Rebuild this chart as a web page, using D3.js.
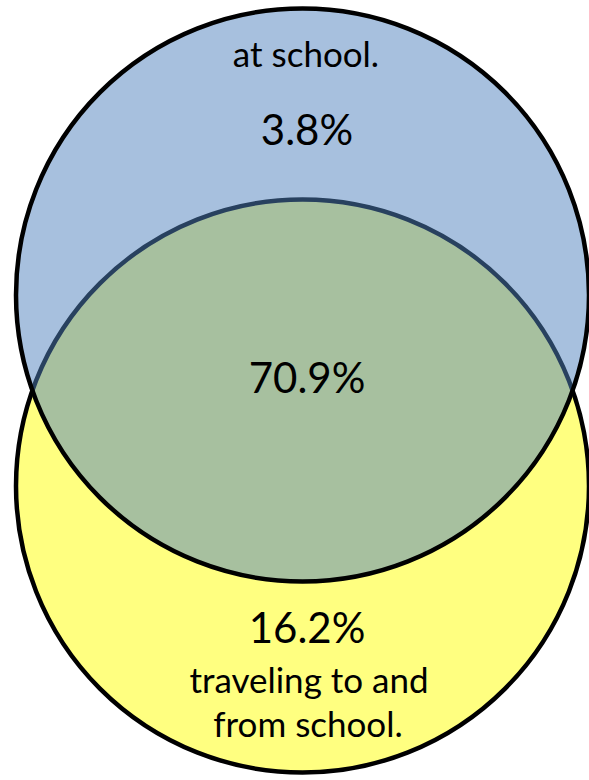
<!DOCTYPE html>
<html>
<head>
<meta charset="utf-8">
<script src="https://cdn.jsdelivr.net/npm/d3@7"></script>
<style>
  html, body { margin: 0; padding: 0; background: #ffffff; }
  svg { display: block; }
</style>
</head>
<body>
<div id="chart"></div>
<script>
// ---- data ----
const setNames = ["at school.", "traveling to and from school."];
const regionLabels = ["at school only", "both", "traveling only"];
const regionValues = [3.8, 70.9, 16.2];
const setColors = ["#4F81BD", "#FFFF80"];

const W = 589, H = 780;
const svg = d3.select("#chart").append("svg").attr("width", W).attr("height", H);

// layout in abstract units: circle radius 1, centers separated vertically
const x = d3.scaleLinear().domain([-1, 1]).range([16, 589]);
const y = d3.scaleLinear().domain([0, 1]).range([295, 486]);
const rPx = x(1) - x(0);

const circles = [
  { name: setNames[1], cx: 0, cy: 1, fill: setColors[1], opacity: 1 },
  { name: setNames[0], cx: 0, cy: 0, fill: setColors[0], opacity: 0.5 }
];

// yellow fill + stroke, then translucent blue fill (tints the yellow stroke navy), then blue stroke
svg.append("circle")
  .attr("cx", x(circles[0].cx)).attr("cy", y(circles[0].cy)).attr("r", rPx)
  .attr("fill", circles[0].fill).attr("stroke", "#000").attr("stroke-width", 4.5);
svg.append("circle")
  .attr("cx", x(circles[1].cx)).attr("cy", y(circles[1].cy)).attr("r", rPx)
  .attr("fill", circles[1].fill).attr("fill-opacity", circles[1].opacity).attr("stroke", "none");
svg.append("circle")
  .attr("cx", x(circles[1].cx)).attr("cy", y(circles[1].cy)).attr("r", rPx)
  .attr("fill", "none").attr("stroke", "#000").attr("stroke-width", 4.5);

const font = "Lato, 'Open Sans', sans-serif";
const fmt = v => v.toFixed(1) + "%";

const texts = [
  { t: setNames[0], x: 306, y: 67, size: 35 },
  { t: fmt(regionValues[0]), x: 307, y: 145, size: 42 },
  { t: fmt(regionValues[1]), x: 307, y: 393, size: 42 },
  { t: fmt(regionValues[2]), x: 307, y: 643, size: 42 },
  { t: "traveling to and", x: 309, y: 693, size: 35 },
  { t: "from school.", x: 308, y: 737, size: 35 }
];
svg.selectAll("text.lbl").data(texts).enter().append("text")
  .attr("class", "lbl")
  .attr("x", d => d.x).attr("y", d => d.y)
  .attr("text-anchor", "middle")
  .attr("font-family", font)
  .attr("font-size", d => d.size)
  .attr("fill", "#000")
  .text(d => d.t);
</script>
</body>
</html>
